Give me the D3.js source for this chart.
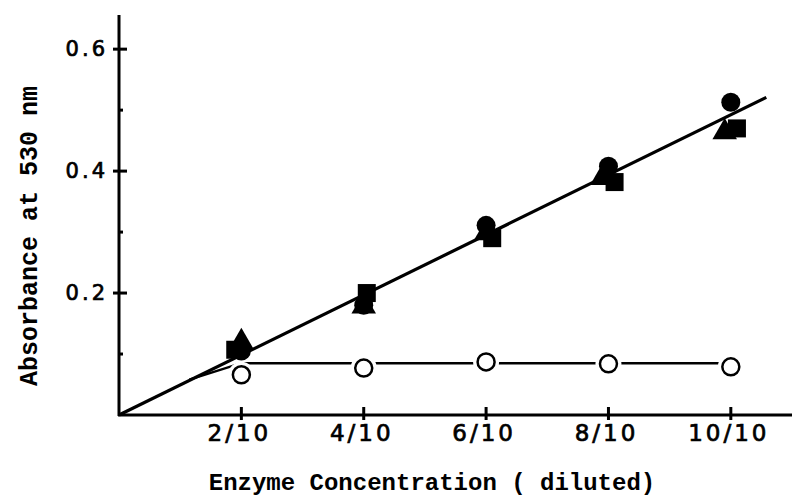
<!DOCTYPE html>
<html>
  <head>
    <meta charset=utf-8 />
    <title>Absorbance vs enzyme concentration</title>
    <script src="https://cdnjs.cloudflare.com/ajax/libs/d3/7.8.5/d3.min.js"></script>
    <style>
      body { margin: 0; background: #fff; }
    </style>
  </head>
  <body>
    <div id="main-container"></div>
    <script>

  // values
  var xTicks = [0.2, 0.4, 0.6, 0.8, 1.0];
  var xTickLabels = ["2/10", "4/10", "6/10", "8/10", "10/10"];
  var yTicks = [0.2, 0.4, 0.6];
  var yMinorTicks = [0.1, 0.3, 0.5];

  var circleX = [0.2, 0.4, 0.6, 0.8, 1.0];
  var circleY = [0.105, 0.18, 0.311, 0.408, 0.513];
  var squareX = [0.19, 0.405, 0.61, 0.81, 1.01];
  var squareY = [0.107, 0.2, 0.29, 0.382, 0.47];
  var triangleX = [0.2, 0.4, 0.6, 0.79, 0.99];
  var triangleY = [0.12, 0.178, 0.298, 0.389, 0.464];
  var openX = [0.2, 0.4, 0.6, 0.8, 1.0];
  var openY = [0.066, 0.077, 0.087, 0.084, 0.079];

  var fitLine = [[0, 0], [1.058, 0.521]];
  var plateauLine = [[0.115, 0.058], [0.2, 0.085], [1.0, 0.085]];

  var width = 792, height = 500;
  var x0 = 119, y0 = 415;

  var svg = d3.select('#main-container').append('svg')
    .attr('width', width)
    .attr('height', height);

  var xScale = d3.scaleLinear().domain([0, 1.1]).range([x0, 792]);
  var yScale = d3.scaleLinear().domain([0, 0.656]).range([y0, 15]);

  var line = d3.line()
    .x(function(d){ return xScale(d[0]); })
    .y(function(d){ return yScale(d[1]); });

  function zip(xs, ys){ return xs.map(function(v, i){ return [v, ys[i]]; }); }

  // axes
  svg.append('line')
    .attr('x1', x0).attr('x2', x0)
    .attr('y1', yScale(0) + 1).attr('y2', yScale(0.656))
    .attr('stroke', '#000').attr('stroke-width', 3);
  svg.append('line')
    .attr('x1', x0 - 1).attr('x2', xScale(1.1))
    .attr('y1', y0).attr('y2', y0)
    .attr('stroke', '#000').attr('stroke-width', 3);

  svg.selectAll('.xtick').data(xTicks).enter().append('line')
    .attr('x1', function(d){ return xScale(d); })
    .attr('x2', function(d){ return xScale(d); })
    .attr('y1', y0 - 8).attr('y2', y0 + 5)
    .attr('stroke', '#000').attr('stroke-width', 3);

  svg.selectAll('.ytick').data(yTicks).enter().append('line')
    .attr('x1', x0 - 6).attr('x2', x0 + 8)
    .attr('y1', function(d){ return yScale(d); })
    .attr('y2', function(d){ return yScale(d); })
    .attr('stroke', '#000').attr('stroke-width', 3);

  svg.selectAll('.yminor').data(yMinorTicks).enter().append('line')
    .attr('x1', x0).attr('x2', x0 + 4)
    .attr('y1', function(d){ return yScale(d); })
    .attr('y2', function(d){ return yScale(d); })
    .attr('stroke', '#000').attr('stroke-width', 3);

  svg.selectAll('.xlabel').data(xTicks).enter().append('text')
    .attr('x', function(d){ return xScale(d) - 2; })
    .attr('y', 441)
    .attr('text-anchor', 'middle')
    .attr('font-family', 'DejaVu Sans')
    .attr('font-size', 23)
    .attr('letter-spacing', 3)
    .attr('stroke', '#000').attr('stroke-width', 0.7)
    .text(function(d, i){ return xTickLabels[i]; });

  svg.selectAll('.ylabel').data(yTicks).enter().append('text')
    .attr('x', 108)
    .attr('y', function(d){ return yScale(d) + 7; })
    .attr('text-anchor', 'end')
    .attr('font-family', 'DejaVu Sans')
    .attr('font-size', 21)
    .attr('letter-spacing', 3)
    .attr('stroke', '#000').attr('stroke-width', 0.7)
    .text(function(d){ return d3.format('.1f')(d); });

  svg.append('text')
    .attr('transform', 'translate(37,236) rotate(-90)')
    .attr('text-anchor', 'middle')
    .attr('font-family', 'Liberation Mono')
    .attr('font-weight', 'bold')
    .attr('font-size', 25)
    .text('Absorbance at 530 nm');

  svg.append('text')
    .attr('x', 432).attr('y', 490)
    .attr('text-anchor', 'middle')
    .attr('font-family', 'Liberation Mono')
    .attr('font-weight', 'bold')
    .attr('font-size', 24)
    .text('Enzyme Concentration ( diluted)');

  // control series (open circles) with its line
  svg.append('path')
    .attr('d', line(plateauLine))
    .attr('fill', 'none').attr('stroke', '#000').attr('stroke-width', 2.5);

  var openPts = zip(openX, openY);
  svg.selectAll('.openhalo').data(openPts).enter().append('circle')
    .attr('cx', function(d){ return xScale(d[0]); })
    .attr('cy', function(d){ return yScale(d[1]); })
    .attr('r', 13).attr('fill', '#fff');
  svg.selectAll('.open').data(openPts).enter().append('circle')
    .attr('cx', function(d){ return xScale(d[0]); })
    .attr('cy', function(d){ return yScale(d[1]); })
    .attr('r', 8.5).attr('fill', '#fff')
    .attr('stroke', '#000').attr('stroke-width', 2.5);

  // filled markers
  var sq = 18;
  svg.selectAll('.sq').data(zip(squareX, squareY)).enter().append('rect')
    .attr('x', function(d){ return xScale(d[0]) - sq / 2; })
    .attr('y', function(d){ return yScale(d[1]) - sq / 2; })
    .attr('width', sq).attr('height', sq)
    .attr('fill', '#000');

  var tri = d3.symbol().type(d3.symbolTriangle).size(260);
  svg.selectAll('.tri').data(zip(triangleX, triangleY)).enter().append('path')
    .attr('d', tri)
    .attr('transform', function(d){ return 'translate(' + xScale(d[0]) + ',' + yScale(d[1]) + ')'; })
    .attr('fill', '#000');

  svg.selectAll('.dot').data(zip(circleX, circleY)).enter().append('circle')
    .attr('cx', function(d){ return xScale(d[0]); })
    .attr('cy', function(d){ return yScale(d[1]); })
    .attr('r', 9.5).attr('fill', '#000');

  // regression line
  svg.append('path')
    .attr('d', line(fitLine))
    .attr('fill', 'none').attr('stroke', '#000').attr('stroke-width', 3.2);

</script>
  </body>
</html>
